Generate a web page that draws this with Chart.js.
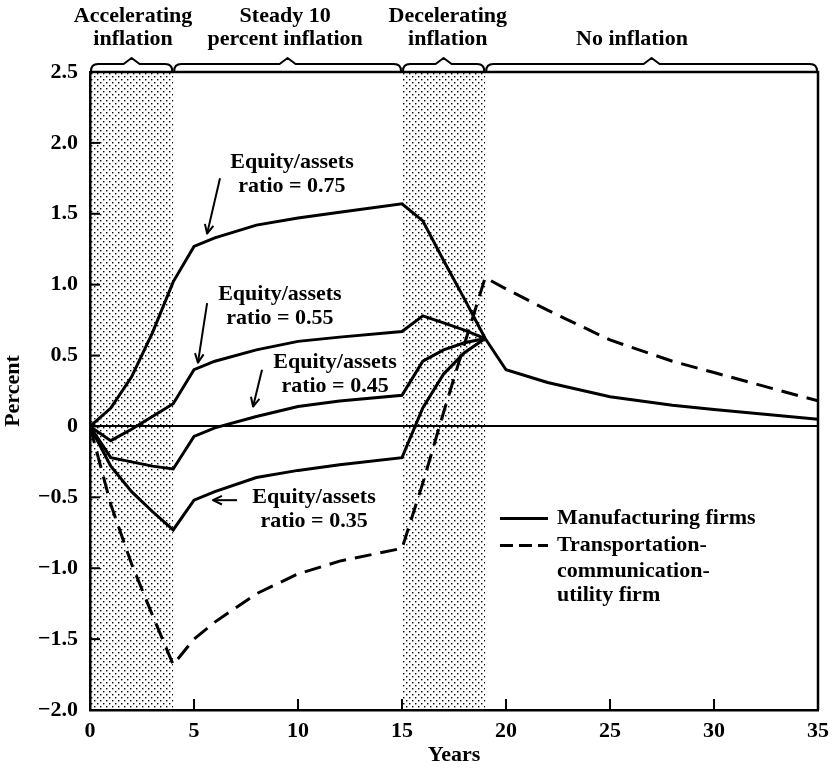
<!DOCTYPE html>
<html>
<head>
<meta charset="utf-8">
<script src="https://cdn.jsdelivr.net/npm/chart.js@4.4.1/dist/chart.umd.min.js"></script>
<style>
  html, body { margin: 0; padding: 0; background: #fff; }
  canvas { display: block; }
</style>
</head>
<body>
<canvas id="myChart" width="838" height="769"></canvas>
<script>
// years up to the end of the decelerating phase
const yearsA = [0, 1, 2, 3, 4, 5, 6, 8, 10, 12, 15, 16, 17, 18, 19];
const eq75 = [0, 0.13, 0.35, 0.66, 1.02, 1.27, 1.33, 1.42, 1.47, 1.51, 1.57, 1.45, 1.17, 0.90, 0.62];
const eq55 = [0, -0.10, -0.02, 0.07, 0.16, 0.40, 0.46, 0.54, 0.60, 0.63, 0.67, 0.78, 0.73, 0.68, 0.62];
const eq45 = [0, -0.22, -0.25, -0.28, -0.30, -0.07, -0.01, 0.07, 0.14, 0.18, 0.22, 0.46, 0.54, 0.59, 0.62];
const eq35 = [0, -0.28, -0.46, -0.60, -0.73, -0.52, -0.46, -0.36, -0.31, -0.27, -0.22, 0.13, 0.37, 0.52, 0.62];
const transpA = [0, -0.55, -0.97, -1.33, -1.68, -1.50, -1.38, -1.18, -1.04, -0.95, -0.86, -0.40, 0.10, 0.58, 1.05];

// no inflation phase
const yearsB = [19, 20, 22, 25, 28, 30, 35];
const manuB = [0.62, 0.40, 0.31, 0.21, 0.15, 0.12, 0.05];
const transpB = [1.05, 0.97, 0.82, 0.61, 0.46, 0.38, 0.18];

const yTicks = [-2.0, -1.5, -1.0, -0.5, 0, 0.5, 1.0, 1.5, 2.0, 2.5];
const xTicks = [0, 5, 10, 15, 20, 25, 30, 35];

const phases = [
  { from: 0, to: 4, shaded: true, lines: ['Accelerating', 'inflation'], at: 2.07 },
  { from: 4, to: 15, shaded: false, lines: ['Steady 10', 'percent inflation'], at: 9.38 },
  { from: 15, to: 19, shaded: true, lines: ['Decelerating', 'inflation'], at: 17.2 },
  { from: 19, to: 35, shaded: false, lines: ['', 'No inflation'], at: 26.06 }
];

// label text, first-line position, arrow from -> to (data units)
const notes = [
  { text: ['Equity/assets', 'ratio = 0.75'], x: 9.71, y: 1.86, arrow: [6.25, 1.75, 5.63, 1.36] },
  { text: ['Equity/assets', 'ratio = 0.55'], x: 9.13, y: 0.93, arrow: [5.63, 0.87, 5.19, 0.45] },
  { text: ['Equity/assets', 'ratio = 0.45'], x: 11.78, y: 0.45, arrow: [8.27, 0.40, 7.84, 0.14] },
  { text: ['Equity/assets', 'ratio = 0.35'], x: 10.77, y: -0.50, arrow: [7.07, -0.52, 5.91, -0.52] }
];

const FONT = '"Liberation Serif", "Times New Roman", serif';
const font = { family: FONT, size: 22, weight: 'bold' };

function pts(xs, ys) {
  return xs.map((x, i) => ({ x: x, y: ys[i] }));
}

function solid(ys) {
  return { data: pts(yearsA, ys), borderColor: '#000', borderWidth: 3, pointRadius: 0, tension: 0, fill: false };
}

// dotted stipple for shaded phases
function stipple() {
  const c = document.createElement('canvas');
  c.width = 6; c.height = 6;
  const g = c.getContext('2d');
  g.fillStyle = '#000';
  g.fillRect(1, 1, 1.4, 1.4);
  g.fillRect(4, 4, 1.4, 1.4);
  return c;
}

const decor = {
  id: 'decor',
  beforeDraw(chart) {
    const { ctx, chartArea: a, scales: { x } } = chart;
    ctx.save();
    ctx.fillStyle = '#fff';
    ctx.fillRect(0, 0, chart.width, chart.height);
    ctx.fillStyle = ctx.createPattern(stipple(), 'repeat');
    phases.filter(p => p.shaded).forEach(p => {
      const x0 = x.getPixelForValue(p.from), x1 = x.getPixelForValue(p.to);
      ctx.fillRect(x0, a.top, x1 - x0, a.bottom - a.top);
    });
    ctx.restore();
  },
  afterDraw(chart) {
    const { ctx, chartArea: a, scales: { x, y } } = chart;
    ctx.save();
    ctx.strokeStyle = '#000';
    ctx.fillStyle = '#000';
    ctx.lineCap = 'butt';

    // top and right frame
    ctx.lineWidth = 2.5;
    ctx.beginPath();
    ctx.moveTo(a.left, a.top); ctx.lineTo(a.right, a.top); ctx.lineTo(a.right, a.bottom);
    ctx.stroke();

    // inward ticks
    ctx.lineWidth = 2;
    yTicks.slice(1, -1).forEach(v => {
      const py = y.getPixelForValue(v);
      ctx.beginPath(); ctx.moveTo(a.left, py); ctx.lineTo(a.left + 10, py); ctx.stroke();
    });
    xTicks.slice(1, -1).forEach(v => {
      const px = x.getPixelForValue(v);
      ctx.beginPath(); ctx.moveTo(px, a.bottom); ctx.lineTo(px, a.bottom - 11); ctx.stroke();
    });

    // braces and phase labels
    ctx.lineWidth = 2;
    ctx.lineJoin = 'round';
    phases.forEach(p => {
      const x0 = x.getPixelForValue(p.from) + 1, x1 = x.getPixelForValue(p.to) - 1;
      const m = x.getPixelForValue((p.from + p.to) / 2);
      const base = a.top - 1, bar = a.top - 8, peak = a.top - 14;
      ctx.beginPath();
      ctx.moveTo(x0, base);
      ctx.quadraticCurveTo(x0, bar, x0 + 7, bar);
      ctx.lineTo(m - 8, bar);
      ctx.lineTo(m, peak);
      ctx.lineTo(m + 8, bar);
      ctx.lineTo(x1 - 7, bar);
      ctx.quadraticCurveTo(x1, bar, x1, base);
      ctx.stroke();

      ctx.font = 'bold 22px ' + FONT;
      ctx.textAlign = 'center';
      ctx.textBaseline = 'middle';
      const cx = x.getPixelForValue(p.at);
      if (p.lines[0]) ctx.fillText(p.lines[0], cx, 16);
      ctx.fillText(p.lines[1], cx, 39);
    });

    // ratio annotations with arrows
    ctx.font = 'bold 22px ' + FONT;
    ctx.textAlign = 'center';
    ctx.textBaseline = 'middle';
    notes.forEach(n => {
      const cx = x.getPixelForValue(n.x), cy = y.getPixelForValue(n.y);
      ctx.fillText(n.text[0], cx, cy);
      ctx.fillText(n.text[1], cx, cy + 24);
      const [ax, ay, bx, by] = n.arrow;
      const p0 = [x.getPixelForValue(ax), y.getPixelForValue(ay)];
      const p1 = [x.getPixelForValue(bx), y.getPixelForValue(by)];
      ctx.lineWidth = 2;
      ctx.beginPath(); ctx.moveTo(p0[0], p0[1]); ctx.lineTo(p1[0], p1[1]); ctx.stroke();
      const ang = Math.atan2(p1[1] - p0[1], p1[0] - p0[0]);
      const h = 10;
      ctx.beginPath();
      ctx.moveTo(p1[0] - h * Math.cos(ang - 0.45), p1[1] - h * Math.sin(ang - 0.45));
      ctx.lineTo(p1[0], p1[1]);
      ctx.lineTo(p1[0] - h * Math.cos(ang + 0.45), p1[1] - h * Math.sin(ang + 0.45));
      ctx.stroke();
    });

    // legend
    const lx0 = x.getPixelForValue(19.71), lx1 = x.getPixelForValue(22.02), tx = x.getPixelForValue(22.45);
    const ly = [-0.65, -0.84, -1.02, -1.19].map(v => y.getPixelForValue(v));
    ctx.lineWidth = 3;
    ctx.beginPath(); ctx.moveTo(lx0, ly[0]); ctx.lineTo(lx1, ly[0]); ctx.stroke();
    ctx.setLineDash([13, 6]);
    ctx.beginPath(); ctx.moveTo(lx0, ly[1]); ctx.lineTo(lx1, ly[1]); ctx.stroke();
    ctx.setLineDash([]);
    ctx.textAlign = 'left';
    ctx.fillText('Manufacturing firms', tx, ly[0]);
    ctx.fillText('Transportation-', tx, ly[1]);
    ctx.fillText('communication-', tx, ly[2]);
    ctx.fillText('utility firm', tx, ly[3]);
    ctx.restore();
  }
};

const data = {
  datasets: [
    solid(eq75),
    solid(eq55),
    solid(eq45),
    solid(eq35),
    { data: pts(yearsB, manuB), borderColor: '#000', borderWidth: 3, pointRadius: 0, tension: 0, fill: false },
    { data: pts(yearsA, transpA).concat(pts(yearsB.slice(1), transpB.slice(1))), borderColor: '#000', borderWidth: 3,
      borderDash: [17, 9], pointRadius: 0, tension: 0, fill: false }
  ]
};

const config = {
  type: 'line',
  data: data,
  options: {
    responsive: false,
    animation: false,
    layout: { padding: { top: 72, right: 20, left: 0, bottom: 0 } },
    plugins: { legend: { display: false }, tooltip: { enabled: false } },
    scales: {
      x: {
        type: 'linear', min: 0, max: 35,
        afterBuildTicks: s => { s.ticks = xTicks.map(v => ({ value: v })); },
        afterFit: s => { s.height = 59; },
        ticks: { color: '#000', font: font, padding: 8, maxRotation: 0 },
        grid: { display: false, drawTicks: false },
        border: { color: '#000', width: 2.5 },
        title: { display: true, text: 'Years', color: '#000', font: font, padding: 0 }
      },
      y: {
        min: -2, max: 2.5,
        afterBuildTicks: s => { s.ticks = yTicks.map(v => ({ value: v })); },
        afterFit: s => { s.width = 90; },
        ticks: {
          color: '#000', font: font, padding: 12,
          callback: v => v === 0 ? '0' : (v < 0 ? '\u2212' : '') + Math.abs(v).toFixed(1)
        },
        grid: {
          drawTicks: false, lineWidth: 2,
          color: c => c.tick && c.tick.value === 0 ? '#000' : 'rgba(0,0,0,0)'
        },
        border: { color: '#000', width: 2.5 },
        title: { display: true, text: 'Percent', color: '#000', font: font, padding: 0 }
      }
    }
  },
  plugins: [decor]
};

const myChart = new Chart(document.getElementById('myChart'), config);
</script>
</body>
</html>
